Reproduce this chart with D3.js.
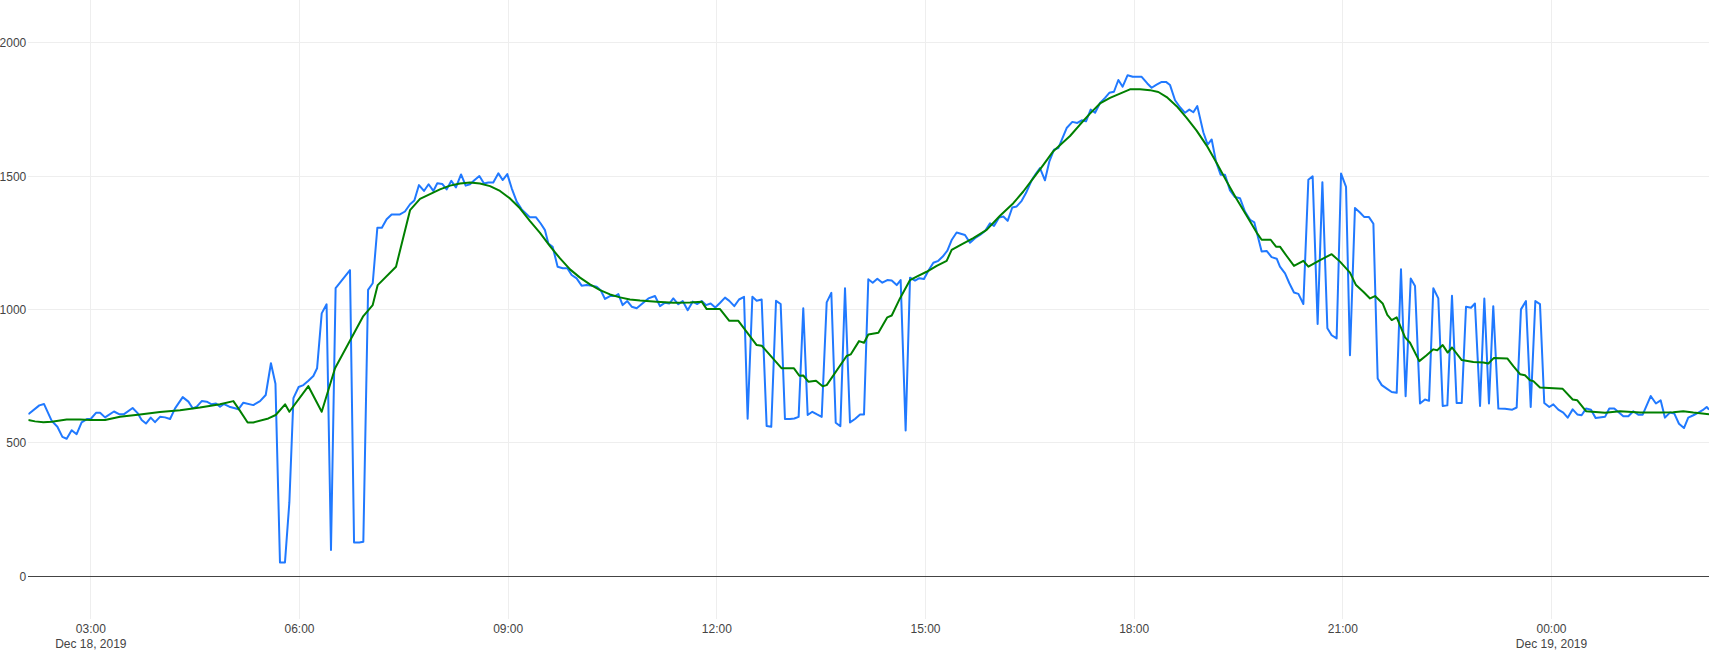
<!DOCTYPE html>
<html><head><meta charset="utf-8">
<script src="https://cdn.jsdelivr.net/npm/d3@7"></script>
<style>html,body{margin:0;padding:0;background:#fff;overflow:hidden;} svg{display:block;}</style>
</head><body><svg id="chart" width="1709" height="651"></svg>
<script>
// minutes after 2019-12-18 00:00
const blueTimes = [126.5,136.0,140.1,146.7,151.6,155.9,159.6,163.9,168.2,172.5,177.4,180.3,184.9,188.4,192.7,200.4,204.8,209.1,216.5,220.6,224.3,228.0,232.1,235.8,240.1,244.4,248.8,253.1,259.7,264.6,268.3,271.8,276.1,280.4,284.7,288.4,291.9,295.3,299.9,304.8,307.7,312.0,320.6,326.4,331.3,335.8,339.7,343.6,347.9,351.7,355.2,359.7,363.8,368.1,372.4,375.6,379.6,383.8,387.6,391.6,395.4,404.0,407.5,412.0,415.5,419.6,423.6,427.6,431.5,435.6,439.9,447.1,451.4,455.8,459.5,463.5,467.8,471.8,475.9,479.3,483.7,487.4,491.4,495.4,499.8,503.8,507.5,511.5,515.6,519.6,523.3,527.6,532.0,535.7,539.7,543.5,547.8,552.1,556.4,559.3,564.5,568.5,572.2,575.1,578.8,583.1,587.5,591.5,595.2,599.5,603.8,608.2,612.5,616.8,620.2,624.0,628.3,632.6,635.5,639.2,643.2,647.0,651.3,657.0,661.4,667.1,671.4,675.7,679.5,682.9,687.2,691.0,695.3,699.6,703.6,707.4,711.1,715.1,719.1,723.3,727.5,731.2,735.5,739.6,743.9,747.0,751.1,754.8,759.1,763.4,767.4,771.5,775.5,779.2,783.5,787.3,791.0,795.0,798.8,802.8,806.5,810.9,815.2,819.2,823.0,827.0,831.0,835.3,839.6,844.0,847.4,851.1,854.9,858.9,863.2,867.5,871.3,875.6,879.0,883.3,887.1,891.4,895.1,899.1,902.9,907.2,911.5,915.3,919.3,923.0,927.3,934.5,938.8,943.1,947.5,951.8,956.1,959.5,963.8,967.6,971.3,975.3,979.1,983.4,987.1,992.0,995.6,999.2,1003.5,1007.3,1011.3,1015.0,1022.2,1027.1,1031.4,1035.2,1038.9,1042.9,1046.7,1051.0,1055.3,1059.0,1063.0,1066.8,1070.5,1074.8,1079.2,1086.9,1091.8,1095.5,1099.8,1104.2,1107.9,1111.4,1115.7,1120.0,1124.3,1128.0,1131.5,1134.9,1140.1,1143.8,1147.3,1151.0,1155.0,1158.8,1163.1,1167.4,1171.7,1176.0,1180.4,1184.1,1190.4,1194.7,1199.0,1203.4,1206.2,1210.6,1214.3,1218.3,1222.1,1226.4,1230.7,1234.4,1238.7,1242.8,1247.1,1250.8,1255.1,1258.9,1263.2,1266.6,1270.9,1275.2,1279.0,1283.0,1286.8,1290.5,1294.0,1298.3,1302.6,1306.9,1310.6,1314.6,1319.0,1322.7,1327.0,1331.3,1334.8,1338.5,1342.8,1346.6,1350.6,1354.6,1358.6,1363.0,1366.7,1371.0,1374.4,1378.8,1382.5,1386.5,1390.2,1394.6,1400.3,1406.6,1410.4,1414.1,1418.4,1422.5,1426.5,1430.5,1434.2,1438.5,1442.0,1446.3,1450.6,1454.4,1458.7,1462.7,1466.4,1470.2,1474.5,1478.5,1486.6,1490.3,1494.6,1502.4,1506.7,1511.0,1515.3,1519.1,1526.0,1530.5,1534.6,1538.3,1542.6,1546.4,1550.4,1554.7,1558.4,1562.8,1567.1,1570.8,1574.3,1576.3];
const blueValues = [607,640,645,582,560,522,515,547,532,576,589,589,612,612,595,617,607,607,630,612,585,572,594,577,597,595,589,629,671,654,629,635,656,654,644,647,635,645,635,629,625,650,641,656,679,798,721,51,51,277,667,709,716,732,750,779,985,1019,98,1080,1100,1147,126,126,129,1073,1098,1306,1306,1338,1356,1356,1367,1394,1408,1466,1444,1469,1444,1473,1470,1450,1482,1457,1506,1464,1469,1485,1500,1472,1476,1476,1510,1485,1507,1454,1404,1375,1357,1345,1345,1322,1297,1247,1235,1160,1154,1154,1129,1116,1089,1091,1089,1085,1072,1039,1050,1050,1057,1016,1031,1010,1004,1025,1041,1050,1012,1025,1022,1041,1019,1031,997,1029,1020,1031,1016,1022,1007,1025,1044,1032,1012,1037,1047,590,1047,1032,1037,563,560,1032,1020,589,589,591,597,1004,604,616,607,597,1026,1062,575,562,1079,576,589,606,606,1113,1100,1115,1100,1110,1108,1091,1110,546,1119,1108,1117,1114,1145,1175,1182,1198,1220,1260,1288,1279,1250,1267,1279,1294,1323,1313,1344,1348,1332,1382,1386,1407,1436,1484,1508,1530,1484,1555,1599,1605,1680,1703,1699,1709,1705,1749,1737,1774,1793,1812,1816,1860,1835,1878,1872,1872,1847,1831,1843,1853,1853,1841,1784,1758,1737,1749,1739,1762,1664,1618,1637,1555,1505,1505,1446,1421,1417,1367,1336,1326,1217,1219,1196,1190,1160,1135,1098,1063,1058,1020,1486,1499,945,1477,929,903,891,1509,1459,828,1380,1363,1346,1346,1321,741,716,703,690,687,1150,674,1116,1088,647,662,657,1079,1041,638,640,1051,649,649,1010,1006,1022,638,1041,647,1012,628,627,624,632,1000,1031,634,1031,1020,649,634,644,624,613,594,625,606,603,628,624,593,597,628,628,599,599,618,605,605,675,647,659,594,613,609,571,555,594,603,613,622,634,624];
const greenTimes = [126.5,132.3,139.5,146.7,159.6,171.1,180.3,192.7,205.6,222.9,240.1,257.4,274.6,291.9,303.4,308.3,315.7,320.6,333.6,339.9,348.0,351.7,368.1,379.6,391.1,415.5,423.6,427.9,443.7,455.8,464.4,473.0,481.6,490.3,498.9,507.5,516.1,524.8,533.4,542.0,550.6,559.3,567.9,576.5,585.2,593.8,602.4,611.0,619.7,628.3,636.9,645.5,654.2,668.5,682.9,697.3,707.4,711.7,723.2,731.2,739.0,754.8,759.1,776.4,787.0,791.6,795.0,799.4,806.0,811.7,815.2,832.4,835.9,843.1,847.4,851.1,859.8,867.5,871.3,878.4,887.1,892.8,901.4,910.1,918.7,923.0,931.6,941.7,953.2,964.7,976.2,984.8,993.5,1002.1,1010.7,1025.1,1033.7,1042.3,1051.0,1059.6,1068.2,1076.8,1085.5,1094.1,1101.3,1108.5,1117.1,1125.7,1134.3,1143.0,1151.6,1160.2,1168.8,1177.5,1186.1,1190.4,1198.2,1202.8,1206.2,1212.0,1218.3,1226.4,1230.7,1240.8,1250.8,1258.0,1266.6,1271.8,1278.1,1283.9,1288.2,1294.8,1298.8,1302.6,1306.9,1314.1,1318.4,1326.4,1332.7,1338.5,1341.9,1346.6,1350.9,1354.6,1363.0,1373.0,1381.6,1386.0,1390.8,1402.3,1407.5,1413.3,1417.6,1421.9,1424.8,1430.5,1450.1,1458.7,1462.7,1470.2,1486.6,1499.5,1516.8,1534.0,1545.5,1554.1,1562.8,1576.3];
const greenValues = [585,580,577,579,587,587,585,585,597,606,615,622,632,644,656,625,576,576,591,604,644,616,712,616,779,975,1016,1091,1160,1372,1414,1432,1450,1464,1472,1476,1472,1462,1444,1416,1379,1331,1287,1237,1191,1150,1119,1094,1072,1056,1045,1037,1033,1029,1025,1026,1029,1001,1001,957,957,866,864,779,779,751,752,729,732,712,716,825,831,881,875,906,912,970,977,1041,1110,1123,1141,1163,1182,1223,1244,1267,1298,1351,1398,1442,1492,1542,1593,1650,1693,1734,1772,1793,1809,1825,1825,1822,1815,1796,1762,1718,1670,1614,1549,1480,1414,1351,1288,1261,1261,1235,1235,1200,1163,1182,1160,1185,1207,1179,1138,1091,1066,1041,1050,1022,979,960,970,895,875,806,828,850,847,866,838,857,810,803,801,797,818,816,787,757,753,734,731,707,702,662,659,618,612,618,613,613,614,618,613,607];
const yTicks = [0, 500, 1000, 1500, 2000];
const xTickMinutes = [180, 360, 540, 720, 900, 1080, 1260, 1440];
const xTickLabels = ["03:00","06:00","09:00","12:00","15:00","18:00","21:00","00:00"];
const xTickDateLabels = ["Dec 18, 2019","","","","","","","Dec 19, 2019"];

const BLUE = "#2079ff", GREEN = "#008000";
const FONT = "'Liberation Sans', Arial, sans-serif";
const plot = {left: 28.3, right: 1709, top: 0, bottom: 619};
const base = new Date(2019, 11, 18, 0, 0, 0);
const toDate = m => new Date(base.getTime() + m * 60000);

const svg = d3.select("#chart");
const x = d3.scaleTime().domain(d3.extent(blueTimes).map(toDate)).range([plot.left, plot.right]);
const y = d3.scaleLinear().domain([-161, 2160]).range([plot.bottom, plot.top]);

// grid
const grid = svg.append("g").attr("shape-rendering", "crispEdges");
grid.selectAll("line.v").data(xTickMinutes).join("line")
  .attr("x1", d => Math.round(x(toDate(d))) + 0.5).attr("x2", d => Math.round(x(toDate(d))) + 0.5)
  .attr("y1", plot.top).attr("y2", plot.bottom).attr("stroke", "#eeeeee").attr("stroke-width", 1);
grid.selectAll("line.h").data(yTicks.filter(d => d !== 0)).join("line")
  .attr("x1", plot.left).attr("x2", plot.right)
  .attr("y1", d => Math.floor(y(d)) + 0.5).attr("y2", d => Math.floor(y(d)) + 0.5)
  .attr("stroke", "#eeeeee").attr("stroke-width", 1);
grid.append("line").attr("x1", plot.left).attr("x2", plot.right)
  .attr("y1", Math.floor(y(0)) + 0.5).attr("y2", Math.floor(y(0)) + 0.5)
  .attr("stroke", "#444").attr("stroke-width", 1);

// clip
svg.append("clipPath").attr("id", "clip").append("rect")
  .attr("x", plot.left).attr("y", plot.top).attr("width", plot.right - plot.left).attr("height", plot.bottom - plot.top);

const line = d3.line().x(d => x(toDate(d[0]))).y(d => y(d[1]));
const blue = blueTimes.map((t, i) => [t, blueValues[i]]);
const green = greenTimes.map((t, i) => [t, greenValues[i]]);
const lines = svg.append("g").attr("clip-path", "url(#clip)");
lines.append("path").datum(blue).attr("d", line).attr("fill", "none")
  .attr("stroke", BLUE).attr("stroke-width", 2).attr("stroke-linejoin", "round");
lines.append("path").datum(green).attr("d", line).attr("fill", "none")
  .attr("stroke", GREEN).attr("stroke-width", 2).attr("stroke-linejoin", "round");

// y axis
const yAxis = d3.axisLeft(y).tickValues(yTicks).tickFormat(d3.format("d")).tickSize(0).tickPadding(2);
const gy = svg.append("g").attr("transform", `translate(${plot.left},0)`).call(yAxis);
gy.select(".domain").remove();
gy.attr("font-family", FONT).attr("font-size", 12);
gy.selectAll("text").attr("fill", "#444").attr("dy", "0.35em");

// x axis
const xAxis = d3.axisBottom(x).tickValues(xTickMinutes.map(toDate))
  .tickFormat((d, i) => xTickLabels[i]).tickSize(0).tickPadding(5.5);
const gx = svg.append("g").attr("transform", `translate(0,${plot.bottom})`).call(xAxis);
gx.select(".domain").remove();
gx.attr("font-family", FONT).attr("font-size", 12);
gx.selectAll(".tick text").attr("fill", "#444").each(function(d, i) {
  if (xTickDateLabels[i]) {
    d3.select(this).append("tspan").attr("x", 0).attr("dy", "1.28em").text(xTickDateLabels[i]);
  }
});
</script>
</body></html>
